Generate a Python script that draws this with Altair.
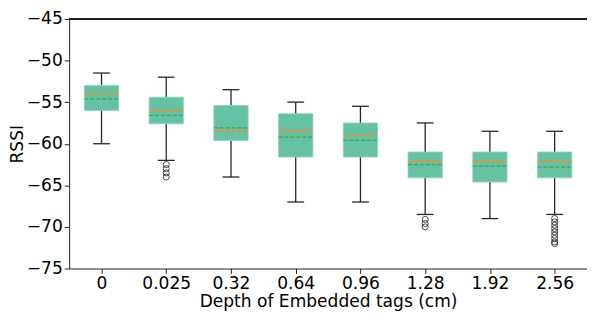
import altair as alt
import pandas as pd

depths = ["0", "0.025", "0.32", "0.64", "0.96", "1.28", "1.92", "2.56"]
whisker_low = [-60.0, -62.0, -64.0, -67.0, -67.0, -68.5, -69.0, -68.5]
q1 = [-56.0, -57.6, -59.6, -61.6, -61.6, -64.1, -64.6, -64.1]
median = [-54.0, -56.0, -58.5, -58.5, -59.0, -62.1, -62.1, -62.1]
mean = [-54.6, -56.6, -58.1, -59.2, -59.6, -62.5, -62.7, -62.8]
q3 = [-53.0, -54.4, -55.4, -56.4, -57.5, -61.0, -61.0, -61.0]
whisker_high = [-51.5, -52.0, -53.5, -55.0, -55.5, -57.5, -58.5, -58.5]
outliers = [
    [],
    [-62.5, -63.0, -63.5, -64.0],
    [],
    [],
    [],
    [-69.1, -69.6, -70.0],
    [],
    [-69.0, -69.4, -69.8, -70.2, -70.6, -71.0, -71.4, -71.8, -72.0],
]
y_ticks = [-75, -70, -65, -60, -55, -50, -45]

df = pd.DataFrame({
    "idx": list(range(1, len(depths) + 1)),
    "depth": depths,
    "wlo": whisker_low,
    "q1": q1,
    "med": median,
    "mean": mean,
    "q3": q3,
    "whi": whisker_high,
})
out_rows = [{"idx": i + 1, "v": v} for i, vals in enumerate(outliers) for v in vals]
df_out = pd.DataFrame(out_rows)

label_expr = "[" + ",".join("'" + d + "'" for d in depths) + "][datum.value - 1]"

xscale = alt.Scale(domain=[0.5, len(depths) + 0.5], nice=False, zero=False)
yscale = alt.Scale(domain=[-75, -45], nice=False, zero=False)

x_axis = alt.Axis(values=list(range(1, len(depths) + 1)), labelExpr=label_expr,
                  title="Depth of Embedded tags (cm)", labelAngle=0,
                  labelPadding=1, titlePadding=1)
y_axis = alt.Axis(values=y_ticks, title="RSSI", labelPadding=2, titlePadding=0)

base = alt.Chart(df).transform_calculate(
    bl="datum.idx - 0.265", br="datum.idx + 0.265",
    cl="datum.idx - 0.13", cr="datum.idx + 0.13",
)

X = lambda f: alt.X(f, type="quantitative", scale=xscale, axis=x_axis)
Y = lambda f: alt.Y(f, type="quantitative", scale=yscale, axis=y_axis)

wcol = "#262626"
whisk_lo = base.mark_rule(color=wcol, strokeWidth=1.3).encode(x=X("idx"), y=Y("wlo"), y2="q1")
whisk_hi = base.mark_rule(color=wcol, strokeWidth=1.3).encode(x=X("idx"), y=Y("q3"), y2="whi")
cap_lo = base.mark_rule(color=wcol, strokeWidth=1.3).encode(x=X("cl"), x2="cr", y=Y("wlo"))
cap_hi = base.mark_rule(color=wcol, strokeWidth=1.3).encode(x=X("cl"), x2="cr", y=Y("whi"))
box = base.mark_bar(color="#66c2a5", stroke="#8fd1bb", strokeWidth=0.8).encode(
    x=X("bl"), x2="br", y=Y("q1"), y2="q3")
med = base.mark_rule(color="#e3913c", strokeWidth=1.4).encode(x=X("bl"), x2="br", y=Y("med"))
mn = base.mark_rule(color="#3aa844", strokeWidth=1.3, strokeDash=[4, 2]).encode(
    x=X("bl"), x2="br", y=Y("mean"))
pts = alt.Chart(df_out).mark_point(shape="circle", filled=False, color="black",
                                   size=38, strokeWidth=1).encode(x=X("idx"), y=Y("v"))
top = alt.Chart(df).mark_rule(color="#222222", strokeWidth=1).encode(
    y=alt.Y(datum=-45, scale=yscale, axis=y_axis))

chart = alt.layer(whisk_lo, whisk_hi, cap_lo, cap_hi, box, med, mn, pts, top).properties(
    width=525, height=253,
    autosize=alt.AutoSizeParams(type="none"),
    padding={"left": 62, "top": 9, "right": 0, "bottom": 44},
).configure_view(stroke=None).configure_axis(
    grid=False, domainColor="#222222", domainWidth=1, tickColor="#222222", tickSize=5,
    labelFont="DejaVu Sans", labelFontSize=17.3, labelColor="black",
    titleFont="DejaVu Sans", titleFontSize=17.3, titleFontWeight="normal", titleColor="black",
)

chart.save("out.html", embed_options={"renderer": "svg", "actions": False})
